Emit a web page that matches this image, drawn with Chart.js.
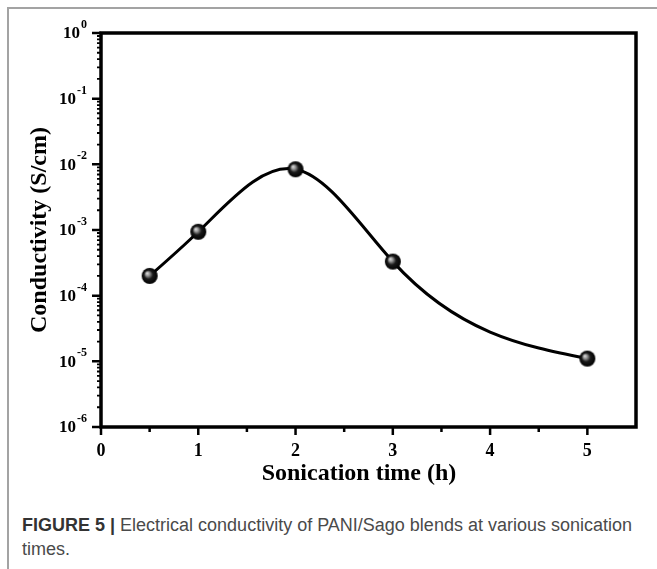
<!DOCTYPE html>
<html lang="en">
<head>
<meta charset="UTF-8">
<title>Electrical conductivity vs sonication time</title>
<script src="https://cdn.jsdelivr.net/npm/chart.js@4"></script>
<style>
  body {
    margin: 0;
    background: #ffffff;
    width: 657px;
    height: 569px;
    overflow: hidden;
    position: relative;
  }
  .frame {
    position: absolute;
    left: 7px;
    top: 7px;
    right: 0;
    bottom: 0;
    border-top: 2px solid #a3a3a3;
    border-left: 2px solid #a3a3a3;
  }
  #chart {
    position: absolute;
    left: 0;
    top: 0;
  }
  .caption {
    position: absolute;
    left: 22px;
    top: 513px;
    font-family: "Liberation Sans", Arial, sans-serif;
    font-size: 18px;
    line-height: 24px;
    color: #4a4a4a;
  }
  .caption b {
    color: #333333;
  }
</style>
</head>
<body>
<div class="frame"></div>
<canvas id="chart" width="657" height="500"></canvas>
<div class="caption"><b>FIGURE 5 |</b> Electrical conductivity of PANI/Sago blends at various sonication<br>times.</div>

<script>
// Measured conductivity for each sonication time
const sonicationTime = [0.5, 1, 2, 3, 5];
const conductivity = [2.0e-4, 9.4e-4, 8.4e-3, 3.3e-4, 1.1e-5];

// Axis ticks
const xMajorTicks = [0, 1, 2, 3, 4, 5];
const xMinorTicks = [0.5, 1.5, 2.5, 3.5, 4.5];
const yExponents = [0, -1, -2, -3, -4, -5, -6];

const serif = '"Liberation Serif", "Times New Roman", serif';

// Shaded black ball used as the point marker
function makeBall(r) {
  const c = document.createElement("canvas");
  c.width = c.height = r * 2 + 2;
  const g = c.getContext("2d");
  const cx = r + 1, cy = r + 1;
  const grad = g.createRadialGradient(cx - r * 0.35, cy - r * 0.35, 0, cx, cy, r);
  grad.addColorStop(0, "#e6e6e6");
  grad.addColorStop(0.25, "#9a9a9a");
  grad.addColorStop(0.55, "#1a1a1a");
  grad.addColorStop(1, "#000000");
  g.fillStyle = grad;
  g.beginPath();
  g.arc(cx, cy, r, 0, Math.PI * 2);
  g.fill();
  return c;
}
const ball = makeBall(8);

// Replace the line's bezier handles with a natural cubic spline
// through the point elements (pixel space, so it is smooth on the log axis)
const naturalSpline = {
  id: "naturalSpline",
  beforeDatasetDraw(chart, args) {
    const meta = args.meta;
    const line = meta.dataset;
    if (!line) return;
    line.updateControlPoints(chart.chartArea);
    const pts = meta.data;
    const n = pts.length;
    if (n < 3) return;
    const h = [], d = [];
    for (let i = 0; i < n - 1; i++) {
      h.push(pts[i + 1].x - pts[i].x);
      d.push((pts[i + 1].y - pts[i].y) / h[i]);
    }
    // tridiagonal solve for second derivatives, M[0] = M[n-1] = 0
    const M = new Array(n).fill(0);
    const a = [], b = [], c = [], r = [];
    for (let i = 1; i < n - 1; i++) {
      a.push(h[i - 1]);
      b.push(2 * (h[i - 1] + h[i]));
      c.push(h[i]);
      r.push(6 * (d[i] - d[i - 1]));
    }
    const m = b.length;
    for (let i = 1; i < m; i++) {
      const w = a[i] / b[i - 1];
      b[i] -= w * c[i - 1];
      r[i] -= w * r[i - 1];
    }
    const sol = new Array(m);
    sol[m - 1] = r[m - 1] / b[m - 1];
    for (let i = m - 2; i >= 0; i--) sol[i] = (r[i] - c[i] * sol[i + 1]) / b[i];
    for (let i = 0; i < m; i++) M[i + 1] = sol[i];

    for (let i = 0; i < n - 1; i++) {
      const s0 = d[i] - h[i] * (2 * M[i] + M[i + 1]) / 6;
      const s1 = d[i] + h[i] * (M[i] + 2 * M[i + 1]) / 6;
      pts[i].cp2x = pts[i].x + h[i] / 3;
      pts[i].cp2y = pts[i].y + s0 * h[i] / 3;
      pts[i + 1].cp1x = pts[i + 1].x - h[i] / 3;
      pts[i + 1].cp1y = pts[i + 1].y - s1 * h[i] / 3;
    }
  }
};

// Frame, outward ticks, superscript labels and axis titles
const axesPlugin = {
  id: "originAxes",
  afterDraw(chart) {
    const ctx = chart.ctx;
    const area = chart.chartArea;
    const xs = chart.scales.x;
    const ys = chart.scales.y;
    ctx.save();
    ctx.strokeStyle = "#000";
    ctx.fillStyle = "#000";

    // ticks on the bottom axis
    ctx.lineWidth = 2.5;
    ctx.beginPath();
    xMajorTicks.forEach((v) => {
      const px = xs.getPixelForValue(v);
      ctx.moveTo(px, area.bottom);
      ctx.lineTo(px, area.bottom + 8);
    });
    xMinorTicks.forEach((v) => {
      const px = xs.getPixelForValue(v);
      ctx.moveTo(px, area.bottom);
      ctx.lineTo(px, area.bottom + 5);
    });
    ctx.stroke();

    // ticks on the left axis: decades plus 2..9 in between
    ctx.beginPath();
    yExponents.forEach((e) => {
      const py = ys.getPixelForValue(Math.pow(10, e));
      ctx.moveTo(area.left, py);
      ctx.lineTo(area.left - 9, py);
    });
    ctx.stroke();
    ctx.lineWidth = 1.8;
    ctx.beginPath();
    yExponents.slice(1).forEach((e) => {
      for (let k = 2; k <= 9; k++) {
        const py = ys.getPixelForValue(k * Math.pow(10, e));
        ctx.moveTo(area.left, py);
        ctx.lineTo(area.left - 4, py);
      }
    });
    ctx.stroke();

    // box around the plot
    ctx.lineWidth = 3.5;
    ctx.strokeRect(area.left, area.top, area.right - area.left, area.bottom - area.top);

    // x tick labels
    ctx.font = "bold 18px " + serif;
    ctx.textAlign = "center";
    ctx.textBaseline = "middle";
    xMajorTicks.forEach((v) => {
      ctx.fillText(String(v), xs.getPixelForValue(v), area.bottom + 24);
    });

    // y tick labels as 10 with a raised exponent
    yExponents.forEach((e) => {
      const py = ys.getPixelForValue(Math.pow(10, e));
      const exp = String(e);
      ctx.textAlign = "right";
      ctx.textBaseline = "middle";
      ctx.font = "bold 12px " + serif;
      const ew = ctx.measureText(exp).width;
      ctx.fillText(exp, 87, py - 8);
      ctx.font = "bold 17px " + serif;
      ctx.fillText("10", 86 - ew, py + 1);
    });

    // axis titles
    ctx.font = "bold 24px " + serif;
    ctx.textAlign = "center";
    ctx.textBaseline = "middle";
    ctx.fillText("Sonication time (h)", 359, 474);
    ctx.translate(40, 230);
    ctx.rotate(-Math.PI / 2);
    ctx.fillText("Conductivity (S/cm)", 0, 0);
    ctx.restore();
  }
};

new Chart(document.getElementById("chart"), {
  type: "line",
  data: {
    datasets: [
      {
        label: "Conductivity",
        data: sonicationTime.map((t, i) => ({ x: t, y: conductivity[i] })),
        borderColor: "#000",
        borderWidth: 3,
        tension: 0.4,
        pointStyle: ball,
        pointRadius: 8,
        pointHoverRadius: 8,
        fill: false,
      },
    ],
  },
  options: {
    responsive: false,
    animation: false,
    events: [],
    layout: {
      padding: { left: 0, right: 21, top: 33, bottom: 0 },
    },
    plugins: {
      legend: { display: false },
      tooltip: { enabled: false },
    },
    scales: {
      x: {
        type: "linear",
        min: 0,
        max: 5.5,
        grid: { display: false },
        border: { display: false },
        ticks: { display: false },
        afterFit: (s) => { s.height = 73; },
      },
      y: {
        type: "logarithmic",
        min: 1e-6,
        max: 1,
        grid: { display: false },
        border: { display: false },
        ticks: { display: false },
        afterFit: (s) => { s.width = 101; },
      },
    },
  },
  plugins: [naturalSpline, axesPlugin],
});
</script>
</body>
</html>
